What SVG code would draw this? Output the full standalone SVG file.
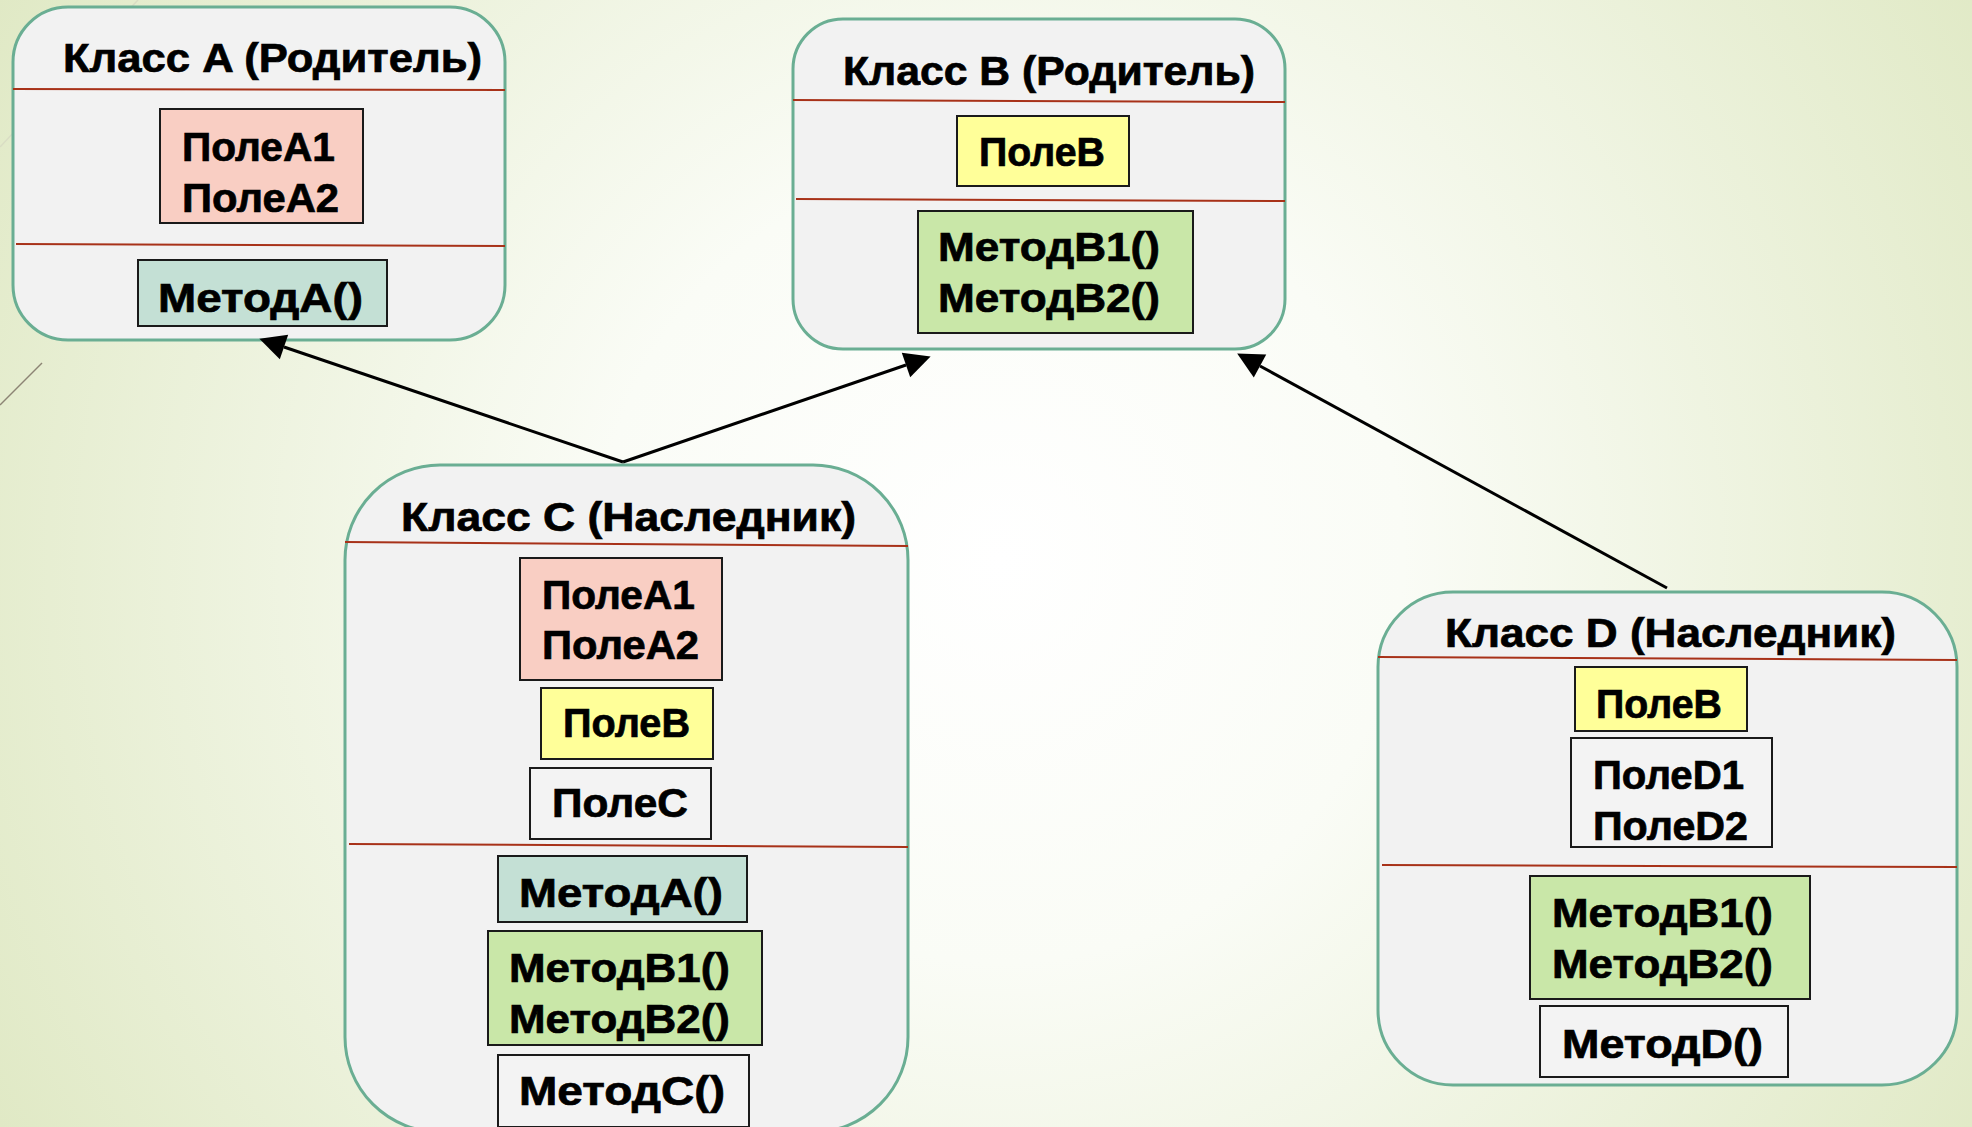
<svg xmlns="http://www.w3.org/2000/svg" width="1972" height="1127" viewBox="0 0 1972 1127">
<defs>
<radialGradient id="bg" gradientUnits="userSpaceOnUse" cx="1000" cy="560" r="1150">
<stop offset="0" stop-color="#ffffff"/>
<stop offset="0.35" stop-color="#fafcf6"/>
<stop offset="1" stop-color="#e0e9c5"/>
</radialGradient>
<marker id="arrow" markerUnits="userSpaceOnUse" markerWidth="28" markerHeight="28" viewBox="0 -14 28 28" refX="0" refY="0" orient="auto" overflow="visible">
<path d="M0,-13 L26,0 L0,13 Z" fill="#000"/>
</marker>
<style>
.node{fill:#f2f2f2;stroke:#6aae93;stroke-width:3}
.div{stroke:#a83219;stroke-width:2;fill:none}
.box{stroke:#1a1a1a;stroke-width:2}
.pa{fill:#f9cec3}
.ma{fill:#c4e0d5}
.pb{fill:#ffff99}
.mb{fill:#c9e7a8}
.pw{fill:#f3f3f3}
.t{font-family:"Liberation Sans",Arial,sans-serif;font-weight:bold;font-size:40px;fill:#000;stroke:#000;stroke-width:0.7}
.conn{stroke:#000;stroke-width:3;fill:none}
.deco{stroke-width:1.5;fill:none}
</style>
</defs>
<rect x="0" y="0" width="1972" height="1127" fill="url(#bg)"/>
<line class="deco" x1="138" y1="0" x2="0" y2="147" stroke="#d9ddc4"/>
<line class="deco" x1="42" y1="363" x2="0" y2="405" stroke="#8c8474"/>

<g id="classA">
<rect class="node" x="13" y="7" width="492" height="333" rx="55" ry="55"/>
<text class="t" x="63" y="72" textLength="419" lengthAdjust="spacingAndGlyphs">Класс A (Родитель)</text>
<line class="div" x1="13" y1="89" x2="505" y2="90"/>
<rect class="box pa" x="160" y="109" width="203" height="114"/>
<text class="t" x="182" y="161" textLength="153" lengthAdjust="spacingAndGlyphs">ПолеA1</text>
<text class="t" x="182" y="212" textLength="157" lengthAdjust="spacingAndGlyphs">ПолеA2</text>
<line class="div" x1="16" y1="244" x2="505" y2="246"/>
<rect class="box ma" x="138" y="260" width="249" height="66"/>
<text class="t" x="158" y="312" textLength="205" lengthAdjust="spacingAndGlyphs">МетодA()</text>
</g>

<g id="classB">
<rect class="node" x="793" y="19" width="492" height="330" rx="50" ry="50"/>
<text class="t" x="843" y="85" textLength="412" lengthAdjust="spacingAndGlyphs">Класс B (Родитель)</text>
<line class="div" x1="793" y1="100" x2="1285" y2="102"/>
<rect class="box pb" x="957" y="116" width="172" height="70"/>
<text class="t" x="979" y="166" textLength="126" lengthAdjust="spacingAndGlyphs">ПолеB</text>
<line class="div" x1="796" y1="199" x2="1285" y2="201"/>
<rect class="box mb" x="918" y="211" width="275" height="122"/>
<text class="t" x="938" y="261" textLength="222" lengthAdjust="spacingAndGlyphs">МетодB1()</text>
<text class="t" x="938" y="312" textLength="222" lengthAdjust="spacingAndGlyphs">МетодB2()</text>
</g>

<g id="classC">
<rect class="node" x="345" y="465" width="563" height="667" rx="95" ry="95"/>
<text class="t" x="401" y="531" textLength="455" lengthAdjust="spacingAndGlyphs">Класс C (Наследник)</text>
<line class="div" x1="345" y1="542" x2="908" y2="546"/>
<rect class="box pa" x="520" y="558" width="202" height="122"/>
<text class="t" x="542" y="609" textLength="153" lengthAdjust="spacingAndGlyphs">ПолеA1</text>
<text class="t" x="542" y="659" textLength="157" lengthAdjust="spacingAndGlyphs">ПолеA2</text>
<rect class="box pb" x="541" y="688" width="172" height="71"/>
<text class="t" x="563" y="737" textLength="127" lengthAdjust="spacingAndGlyphs">ПолеB</text>
<rect class="box pw" x="530" y="768" width="181" height="71"/>
<text class="t" x="552" y="817" textLength="136" lengthAdjust="spacingAndGlyphs">ПолеC</text>
<line class="div" x1="349" y1="844" x2="908" y2="847"/>
<rect class="box ma" x="498" y="856" width="249" height="66"/>
<text class="t" x="519" y="907" textLength="204" lengthAdjust="spacingAndGlyphs">МетодA()</text>
<rect class="box mb" x="488" y="931" width="274" height="114"/>
<text class="t" x="509" y="982" textLength="221" lengthAdjust="spacingAndGlyphs">МетодB1()</text>
<text class="t" x="509" y="1033" textLength="221" lengthAdjust="spacingAndGlyphs">МетодB2()</text>
<rect class="box pw" x="498" y="1055" width="251" height="72"/>
<text class="t" x="519" y="1105" textLength="206" lengthAdjust="spacingAndGlyphs">МетодC()</text>
</g>

<g id="classD">
<rect class="node" x="1378" y="592" width="579" height="493" rx="75" ry="75"/>
<text class="t" x="1445" y="647" textLength="451" lengthAdjust="spacingAndGlyphs">Класс D (Наследник)</text>
<line class="div" x1="1378" y1="657" x2="1957" y2="660"/>
<rect class="box pb" x="1575" y="667" width="172" height="64"/>
<text class="t" x="1596" y="718" textLength="126" lengthAdjust="spacingAndGlyphs">ПолеB</text>
<rect class="box pw" x="1571" y="738" width="201" height="109"/>
<text class="t" x="1593" y="789" textLength="151" lengthAdjust="spacingAndGlyphs">ПолеD1</text>
<text class="t" x="1593" y="840" textLength="155" lengthAdjust="spacingAndGlyphs">ПолеD2</text>
<line class="div" x1="1382" y1="865" x2="1957" y2="867"/>
<rect class="box mb" x="1530" y="876" width="280" height="123"/>
<text class="t" x="1552" y="927" textLength="221" lengthAdjust="spacingAndGlyphs">МетодB1()</text>
<text class="t" x="1552" y="978" textLength="221" lengthAdjust="spacingAndGlyphs">МетодB2()</text>
<rect class="box pw" x="1540" y="1006" width="248" height="71"/>
<text class="t" x="1562" y="1058" textLength="201" lengthAdjust="spacingAndGlyphs">МетодD()</text>
</g>

<g id="connectors">
<path class="conn" d="M623,462 L284,347" marker-end="url(#arrow)"/>
<path class="conn" d="M623,462 L906,365" marker-end="url(#arrow)"/>
<path class="conn" d="M1667,588 L1260,366" marker-end="url(#arrow)"/>
</g>
</svg>
